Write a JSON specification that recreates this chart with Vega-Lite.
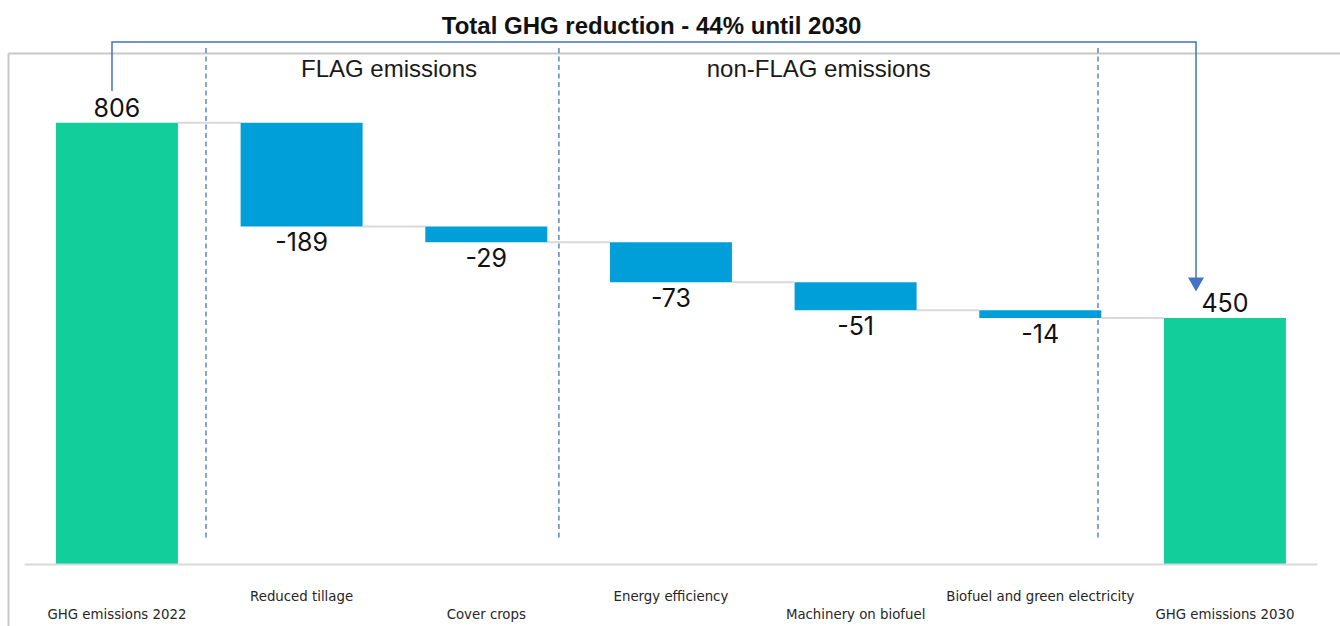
{
  "$schema": "https://vega.github.io/schema/vega-lite/v6.json",
  "width": 1332,
  "height": 573,
  "padding": {"left": 8, "top": 53, "right": 0, "bottom": 0},
  "autosize": {"type": "none"},
  "background": "white",
  "config": {
    "view": {"stroke": null},
    "axisY": {
      "title": null, "labels": false, "ticks": false,
      "domain": true, "domainColor": "#c8c8c8", "domainWidth": 2,
      "grid": true, "gridColor": "#c8c8c8", "gridWidth": 2
    },
    "axisX": {
      "title": null, "domain": false, "ticks": false, "tickSize": 0,
      "labelPadding": 35.5, "labelBaseline": "alphabetic", "labelAngle": 0,
      "labelFont": "DejaVu Sans Condensed, Liberation Sans, sans-serif",
      "labelFontSize": 14.8, "labelColor": "#262626", "labelLineHeight": 18,
      "labelLimit": 400, "labelOverlap": false, "labelBound": false
    }
  },
  "datasets": {
    "steps": [
      {"step": "GHG emissions 2022", "kind": "total", "value": 806, "start": 0, "end": 806, "next": "Reduced tillage"},
      {"step": "Reduced tillage", "kind": "drop", "value": -189, "start": 806, "end": 617, "next": "Cover crops"},
      {"step": "Cover crops", "kind": "drop", "value": -29, "start": 617, "end": 588, "next": "Energy efficiency"},
      {"step": "Energy efficiency", "kind": "drop", "value": -73, "start": 588, "end": 515, "next": "Machinery on biofuel"},
      {"step": "Machinery on biofuel", "kind": "drop", "value": -51, "start": 515, "end": 464, "next": "Biofuel and green electricity"},
      {"step": "Biofuel and green electricity", "kind": "drop", "value": -14, "start": 464, "end": 450, "next": "GHG emissions 2030"},
      {"step": "GHG emissions 2030", "kind": "total", "value": 450, "start": 0, "end": 450, "next": null}
    ],
    "baseline": [{"from": -0.5, "to": 6.5}],
    "dividers": [{"pos": 0.482}, {"pos": 2.393}, {"pos": 5.312}],
    "sections": [
      {"label": "FLAG emissions", "pos": 1.473},
      {"label": "non-FLAG emissions", "pos": 3.8}
    ],
    "heading": [{"label": "Total GHG reduction - 44% until 2030", "pos": 2.895}],
    "bracket": [
      {"ord": 0, "pos": -0.0271, "val": 864},
      {"ord": 1, "pos": -0.0271, "val": 953.5},
      {"ord": 2, "pos": 5.843, "val": 953.5},
      {"ord": 3, "pos": 5.843, "val": 511}
    ],
    "arrow": [{"pos": 5.843, "val": 511}]
  },
  "layer": [
    {
      "data": {"name": "steps"},
      "layer": [
        {
          "transform": [{"filter": "datum.next != null"}],
          "mark": {"type": "rule", "color": "#d9d9d9", "strokeWidth": 2},
          "encoding": {
            "x": {"field": "step", "type": "nominal", "bandPosition": 1,
                  "scale": {"domain": ["GHG emissions 2022", "Reduced tillage", "Cover crops", "Energy efficiency", "Machinery on biofuel", "Biofuel and green electricity", "GHG emissions 2030"], "paddingInner": 0.3394, "paddingOuter": 0.2762, "align": 0.47},
                  "axis": {"orient": "bottom", "offset": -61.5, "labelExpr": "indexof(['GHG emissions 2022', 'Cover crops', 'Machinery on biofuel', 'GHG emissions 2030'], datum.label) >= 0 ? ['', datum.label] : datum.label"}},
            "x2": {"field": "next", "bandPosition": 0},
            "y": {"field": "end", "type": "quantitative", "scale": {"domain": [-112.2, 933.4], "nice": false, "zero": false}, "axis": {"values": [933.4]}}
          }
        },
        {
          "mark": {"type": "bar"},
          "encoding": {
            "x": {"field": "step", "type": "nominal",
                  "scale": {"domain": ["GHG emissions 2022", "Reduced tillage", "Cover crops", "Energy efficiency", "Machinery on biofuel", "Biofuel and green electricity", "GHG emissions 2030"], "paddingInner": 0.3394, "paddingOuter": 0.2762, "align": 0.47},
                  "axis": {"orient": "bottom", "offset": -61.5, "labelExpr": "indexof(['GHG emissions 2022', 'Cover crops', 'Machinery on biofuel', 'GHG emissions 2030'], datum.label) >= 0 ? ['', datum.label] : datum.label"}},
            "y": {"field": "start", "type": "quantitative", "scale": {"domain": [-112.2, 933.4], "nice": false, "zero": false}, "axis": {"values": [933.4]}},
            "y2": {"field": "end"},
            "color": {
              "field": "kind", "type": "nominal", "legend": null,
              "scale": {"domain": ["total", "drop"], "range": ["#12CE9A", "#009FD9"]}
            }
          }
        },
        {
          "transform": [{"filter": "datum.kind == 'total'"}],
          "mark": {"type": "text", "font": "Inter", "fontSize": 25, "color": "#111111", "baseline": "alphabetic", "align": "center", "dy": -6},
          "encoding": {
            "x": {"field": "step", "type": "nominal",
                  "axis": {"orient": "bottom", "offset": -61.5, "labelExpr": "indexof(['GHG emissions 2022', 'Cover crops', 'Machinery on biofuel', 'GHG emissions 2030'], datum.label) >= 0 ? ['', datum.label] : datum.label"}},
            "y": {"field": "end", "type": "quantitative", "axis": {"values": [933.4]}},
            "text": {"field": "value", "type": "nominal"}
          }
        },
        {
          "transform": [{"filter": "datum.kind == 'drop'"}],
          "mark": {"type": "text", "font": "Inter", "fontSize": 25, "color": "#111111", "baseline": "top", "align": "center", "dy": 5},
          "encoding": {
            "x": {"field": "step", "type": "nominal",
                  "axis": {"orient": "bottom", "offset": -61.5, "labelExpr": "indexof(['GHG emissions 2022', 'Cover crops', 'Machinery on biofuel', 'GHG emissions 2030'], datum.label) >= 0 ? ['', datum.label] : datum.label"}},
            "y": {"field": "end", "type": "quantitative", "axis": {"values": [933.4]}},
            "text": {"field": "value", "type": "nominal"}
          }
        }
      ]
    },
    {
      "layer": [
        {
          "data": {"name": "baseline"},
          "mark": {"type": "rule", "color": "#d9d9d9", "strokeWidth": 2},
          "encoding": {
            "x": {"field": "from", "type": "quantitative", "axis": null, "scale": {"domain": [-0.5902, 6.6226], "nice": false, "zero": false}},
            "x2": {"field": "to"},
            "y": {"datum": 0, "type": "quantitative", "axis": {"values": [933.4]}}
          }
        },
        {
          "data": {"name": "dividers"},
          "mark": {"type": "rule", "color": "#4472C4", "strokeWidth": 1.3, "strokeDash": [5, 3.5]},
          "encoding": {
            "x": {"field": "pos", "type": "quantitative", "axis": null, "scale": {"domain": [-0.5902, 6.6226], "nice": false, "zero": false}},
            "y": {"datum": 942.5, "type": "quantitative", "axis": {"values": [933.4]}},
            "y2": {"datum": 48.4}
          }
        },
        {
          "data": {"name": "bracket"},
          "mark": {"type": "line", "color": "#4472C4", "strokeWidth": 1.5},
          "encoding": {
            "x": {"field": "pos", "type": "quantitative", "axis": null, "scale": {"domain": [-0.5902, 6.6226], "nice": false, "zero": false}},
            "y": {"field": "val", "type": "quantitative", "axis": {"values": [933.4]}},
            "order": {"field": "ord"}
          }
        },
        {
          "data": {"name": "arrow"},
          "mark": {"type": "point", "shape": "triangle-down", "filled": true, "size": 256, "color": "#4472C4", "opacity": 1},
          "encoding": {
            "x": {"field": "pos", "type": "quantitative", "axis": null, "scale": {"domain": [-0.5902, 6.6226], "nice": false, "zero": false}},
            "y": {"field": "val", "type": "quantitative", "axis": {"values": [933.4]}}
          }
        },
        {
          "data": {"name": "sections"},
          "mark": {"type": "text", "font": "Liberation Sans", "fontSize": 24, "color": "#1a1a1a", "baseline": "alphabetic", "align": "center"},
          "encoding": {
            "x": {"field": "pos", "type": "quantitative", "axis": null, "scale": {"domain": [-0.5902, 6.6226], "nice": false, "zero": false}},
            "y": {"datum": 889.6, "type": "quantitative", "axis": {"values": [933.4]}},
            "text": {"field": "label", "type": "nominal"}
          }
        },
        {
          "data": {"name": "heading"},
          "mark": {"type": "text", "font": "Liberation Sans", "fontSize": 24, "fontWeight": "bold", "color": "#111111", "baseline": "alphabetic", "align": "center"},
          "encoding": {
            "x": {"field": "pos", "type": "quantitative", "axis": null, "scale": {"domain": [-0.5902, 6.6226], "nice": false, "zero": false}},
            "y": {"datum": 967.5, "type": "quantitative", "axis": {"values": [933.4]}},
            "text": {"field": "label", "type": "nominal"}
          }
        }
      ]
    }
  ],
  "resolve": {"scale": {"x": "independent"}}
}
